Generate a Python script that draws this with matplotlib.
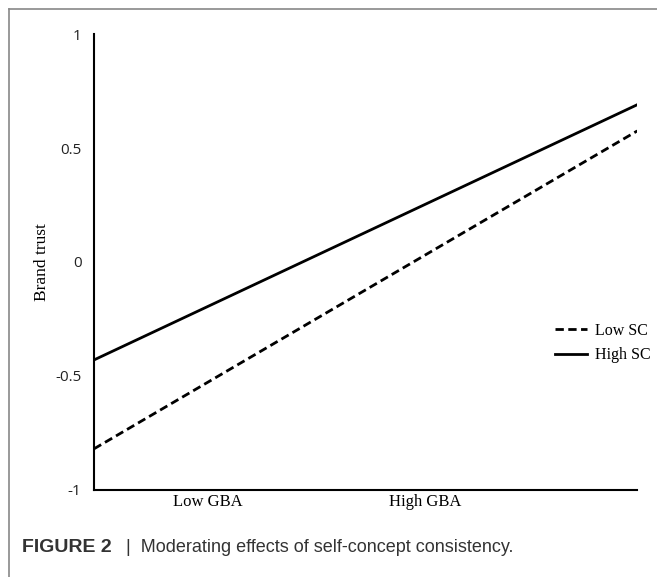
import matplotlib.pyplot as plt
from matplotlib.lines import Line2D

# values
gba_levels = [0, 1]
low_sc = [-0.82, 0.575]
high_sc = [-0.43, 0.69]
y_ticks = [-1, -0.5, 0, 0.5, 1]
y_tick_labels = ['-1', '-0.5', '0', '0.5', '1']
cat_pos = [0.21, 0.61]
cat_labels = ['Low GBA', 'High GBA']

serif = ['Liberation Serif', 'DejaVu Serif']
sans = ['Liberation Sans', 'DejaVu Sans']


def main():
    fig = plt.figure(figsize=(6.57, 5.77), dpi=100)
    ax = fig.add_axes([0.143, 0.151, 0.827, 0.790])

    ax.plot(gba_levels, low_sc, c='black', lw=2, ls=(0, (3, 1.6)), label='Low SC')
    ax.plot(gba_levels, high_sc, c='black', lw=2, label='High SC')

    ax.set_xlim(0, 1)
    ax.set_ylim(-1, 1)
    ax.spines['top'].set_visible(False)
    ax.spines['right'].set_visible(False)
    ax.spines['left'].set_linewidth(1.5)
    ax.spines['bottom'].set_linewidth(1.5)

    ax.set_yticks(y_ticks)
    ax.set_yticklabels(y_tick_labels, fontsize=11, family=['Open Sans', 'DejaVu Sans'], color='#222222')
    ax.tick_params(axis='y', length=0, pad=9)

    ax.set_xticks(cat_pos)
    ax.set_xticklabels(cat_labels, fontsize=12, family=serif)
    ax.tick_params(axis='x', length=0, pad=3)

    ax.set_ylabel('Brand trust', fontsize=12.5, family=serif, labelpad=4)

    ax.legend(loc='center left', bbox_to_anchor=(0.822, 0.322), frameon=False,
              prop={'family': serif, 'size': 11.5}, handlelength=2.0,
              handletextpad=0.5, labelspacing=0.55)

    # grey frame round the figure panel (top and left only)
    fig.add_artist(Line2D([9 / 657, 1], [1 - 9 / 577, 1 - 9 / 577], c='#888888', lw=1.2))
    fig.add_artist(Line2D([9 / 657, 9 / 657], [0, 1 - 9 / 577], c='#888888', lw=1.2))

    fig.text(22 / 657, 1 - 548 / 577, 'FIGURE 2', fontsize=14, weight='bold',
             family=sans, color='#333333', va='center')
    fig.text(126 / 657, 1 - 548 / 577, '|  Moderating effects of self-concept consistency.',
             fontsize=13, family=sans, color='#333333', va='center')

    fig.savefig('out.png', dpi=100)


if __name__ == '__main__':
    main()
